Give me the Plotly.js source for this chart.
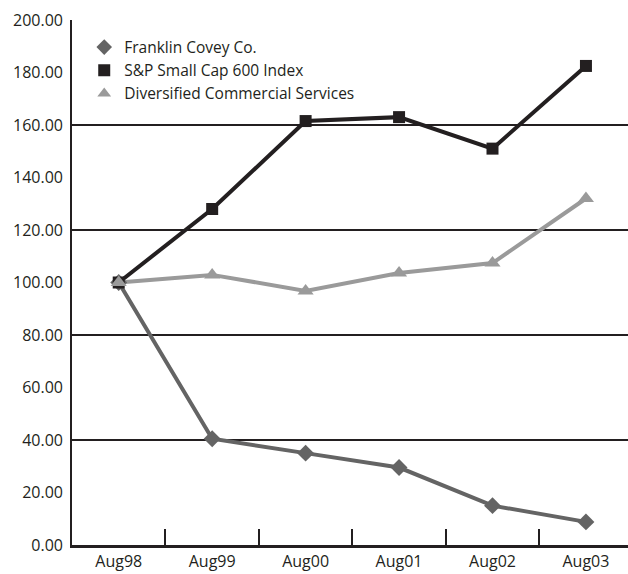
<!DOCTYPE html>
<html>
<head>
<meta charset="utf-8">
<script src="https://cdn.plot.ly/plotly-3.0.1.min.js"></script>
<style>html,body{margin:0;padding:0;background:#fff;}#chart{width:628px;height:574px;}</style>
</head>
<body>
<div id="chart"></div>
<script>
var categories = ["Aug98", "Aug99", "Aug00", "Aug01", "Aug02", "Aug03"];
var franklin = [100, 40.5, 35.0, 29.5, 15.0, 8.8];
var sp600 = [100, 128, 161.5, 163, 151, 182.5];
var diversified = [100, 102.9, 96.8, 103.6, 107.4, 132];
var yLabelVals = [0, 20, 40, 60, 80, 100, 120, 140, 160, 180, 200];
var yLabelText = yLabelVals.map(function(v){ return v.toFixed(2); });
var gridVals = [0, 40, 80, 120, 160, 200];

var series = [
  {name: "Franklin Covey Co.", y: franklin, color: "#646464", symbol: "diamond", size: 13},
  {name: "S&P Small Cap 600 Index", y: sp600, color: "#231f20", symbol: "square", size: 12},
  {name: "Diversified Commercial Services", y: diversified, color: "#9a9a9a", symbol: "triangle-up", size: 14}
];

var traces = [];
series.forEach(function(s){
  traces.push({
    x: categories, y: s.y, type: "scatter", mode: "lines",
    line: {color: s.color, width: 4}, showlegend: false, hoverinfo: "skip", yaxis: "y"
  });
});
series.forEach(function(s){
  traces.push({
    x: categories, y: s.y, type: "scatter", mode: "markers", name: s.name,
    marker: {color: s.color, symbol: s.symbol, size: s.size}, yaxis: "y2"
  });
});

var layout = {
  width: 628, height: 574,
  margin: {l: 72, r: 0, t: 20, b: 29},
  paper_bgcolor: "#fff", plot_bgcolor: "#fff",
  font: {family: "Open Sans, sans-serif", size: 16, color: "#231f20"},
  showlegend: true,
  legend: {
    x: 0.022, y: 0.98, xanchor: "left", yanchor: "top",
    font: {size: 15.5, color: "#231f20"}, tracegroupgap: 0,
    bgcolor: "rgba(0,0,0,0)", itemsizing: "constant", itemwidth: 30
  },
  xaxis: {
    type: "category", range: [-0.5, 5.45],
    showgrid: false, zeroline: false,
    showline: true, linecolor: "#231f20", linewidth: 2.5,
    ticks: "inside", tickson: "boundaries", ticklen: 16, tickwidth: 2, tickcolor: "#231f20",
    tickfont: {size: 16, color: "#231f20"}, fixedrange: true
  },
  yaxis: {
    range: [0, 200], tickmode: "array", tickvals: gridVals,
    showticklabels: false, ticks: "",
    showgrid: true, gridcolor: "#231f20", gridwidth: 2,
    zeroline: false, showline: true, linecolor: "#231f20", linewidth: 2.5
  },
  yaxis2: {
    range: [0, 200], overlaying: "y", side: "left",
    tickmode: "array", tickvals: yLabelVals, ticktext: yLabelText,
    showgrid: false, zeroline: false, showline: false, ticks: "",
    ticklabelstandoff: 8,
    tickfont: {size: 16, color: "#231f20"}
  }
};

Plotly.newPlot("chart", traces, layout, {displayModeBar: false, staticPlot: true});
</script>
</body>
</html>
